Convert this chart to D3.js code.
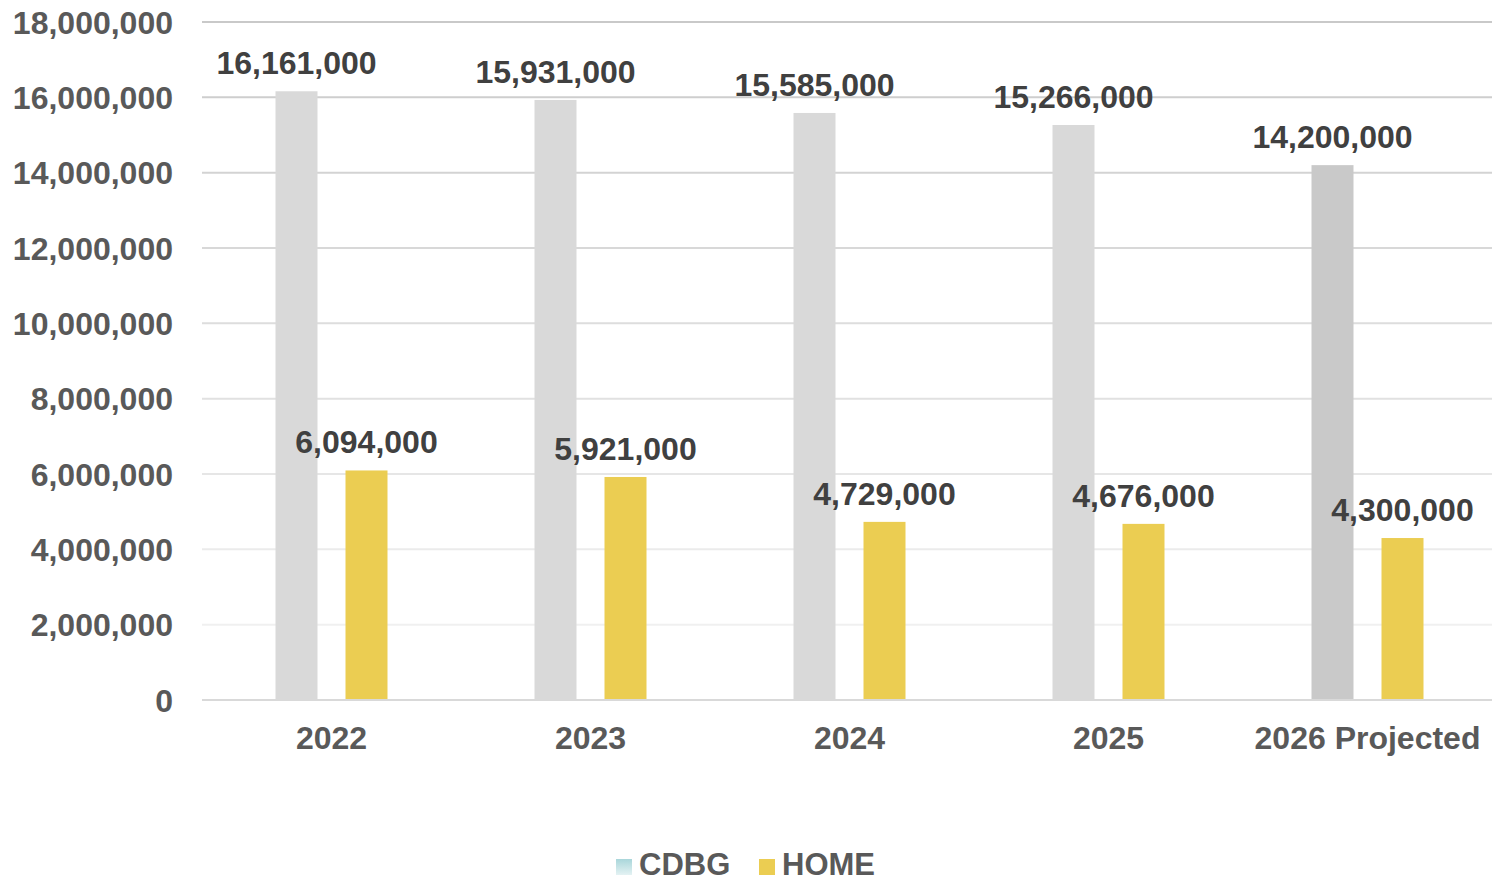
<!DOCTYPE html>
<html>
<head>
<meta charset="utf-8">
<script src="https://cdn.jsdelivr.net/npm/d3@7"></script>
<style>
  body { margin: 0; background: #fff; }
  text { font-family: "Liberation Sans", Arial, sans-serif; font-weight: bold; }
</style>
</head>
<body>
<div id="chart"></div>
<script>
const categories = ["2022", "2023", "2024", "2025", "2026 Projected"];
const cdbgValues = [16161000, 15931000, 15585000, 15266000, 14200000];
const homeValues = [6094000, 5921000, 4729000, 4676000, 4300000];
const yTicks = [0, 2000000, 4000000, 6000000, 8000000, 10000000, 12000000, 14000000, 16000000, 18000000];
const seriesNames = ["CDBG", "HOME"];

const W = 1492, H = 882;
const margin = { left: 202, right: 0, top: 22, bottom: 182 };
const w = W - margin.left - margin.right;
const h = H - margin.top - margin.bottom;

const svg = d3.select("#chart").append("svg")
  .attr("width", W).attr("height", H);

const defs = svg.append("defs");
const grad = defs.append("linearGradient").attr("id", "cdbgSwatch")
  .attr("x1", 0).attr("y1", 0).attr("x2", 0).attr("y2", 1);
grad.append("stop").attr("offset", "0%").attr("stop-color", "#a9d6da");
grad.append("stop").attr("offset", "100%").attr("stop-color", "#e4f2f3");

const g = svg.append("g").attr("transform", `translate(${margin.left},${margin.top})`);

// bands run a touch past the right edge, as in the original
const x = d3.scaleBand().domain(categories).range([0, w + 5]);
const y = d3.scaleLinear().domain([0, 18000000]).range([h, 0]);
const fmt = d3.format(",");

// gridlines fade from darker at top to lighter at bottom
const gridColor = d3.scaleLinear().domain([2000000, 18000000]).range(["#f0f0f0", "#c9c9c9"]);
g.selectAll(".grid").data(yTicks.filter(d => d > 0)).enter()
  .append("line")
  .attr("x1", 0).attr("x2", w)
  .attr("y1", d => y(d)).attr("y2", d => y(d))
  .attr("stroke", d => gridColor(d))
  .attr("stroke-width", 2);

// y axis labels
g.selectAll(".ytick").data(yTicks).enter()
  .append("text")
  .attr("x", -29)
  .attr("y", d => y(d))
  .attr("dy", "0.36em")
  .attr("text-anchor", "end")
  .style("font-size", "32px")
  .style("fill", "#595959")
  .text(d => fmt(d));

const barW = 42, offset = 35;

// CDBG bars
g.selectAll(".cdbg").data(cdbgValues).enter()
  .append("rect")
  .attr("x", (d, i) => x(categories[i]) + x.bandwidth() / 2 - offset - barW / 2)
  .attr("y", d => y(d))
  .attr("width", barW)
  .attr("height", d => h - y(d))
  .attr("fill", (d, i) => i === categories.length - 1 ? "#c9c9c9" : "#d9d9d9");

// HOME bars
g.selectAll(".home").data(homeValues).enter()
  .append("rect")
  .attr("x", (d, i) => x(categories[i]) + x.bandwidth() / 2 + offset - barW / 2)
  .attr("y", d => y(d))
  .attr("width", barW)
  .attr("height", d => h - y(d))
  .attr("fill", "#ebcd52");

// baseline
g.append("line")
  .attr("x1", 0).attr("x2", w)
  .attr("y1", y(0)).attr("y2", y(0))
  .attr("stroke", "#d9d9d9").attr("stroke-width", 2);

// data labels
g.selectAll(".cdbgLabel").data(cdbgValues).enter()
  .append("text")
  .attr("x", (d, i) => x(categories[i]) + x.bandwidth() / 2 - offset)
  .attr("y", d => y(d) - 17)
  .attr("text-anchor", "middle")
  .style("font-size", "32px")
  .style("fill", "#404040")
  .text(d => fmt(d));

g.selectAll(".homeLabel").data(homeValues).enter()
  .append("text")
  .attr("x", (d, i) => x(categories[i]) + x.bandwidth() / 2 + offset)
  .attr("y", d => y(d) - 17)
  .attr("text-anchor", "middle")
  .style("font-size", "32px")
  .style("fill", "#404040")
  .text(d => fmt(d));

// category labels
g.selectAll(".xtick").data(categories).enter()
  .append("text")
  .attr("x", d => x(d) + x.bandwidth() / 2)
  .attr("y", h + 49)
  .attr("text-anchor", "middle")
  .style("font-size", "32px")
  .style("fill", "#595959")
  .text(d => d);

// legend (kept just inside the bottom edge)
const legend = svg.append("g").attr("transform", "translate(616, 859)");
const swatchFill = ["url(#cdbgSwatch)", "#ebcd52"];
const legendX = [0, 143];
seriesNames.forEach((name, i) => {
  legend.append("rect")
    .attr("x", legendX[i]).attr("y", 0)
    .attr("width", 16).attr("height", 16)
    .attr("fill", swatchFill[i]);
  legend.append("text")
    .attr("x", legendX[i] + 23).attr("y", 16)
    .style("font-size", "31px")
    .style("fill", "#595959")
    .text(name);
});
</script>
</body>
</html>
